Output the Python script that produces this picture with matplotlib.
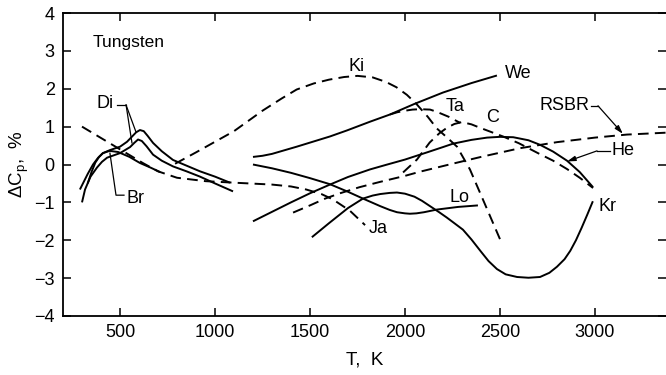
import matplotlib
matplotlib.use("Agg")
import matplotlib.pyplot as plt

plt.rcParams['font.family'] = ['Liberation Sans', 'DejaVu Sans']
plt.rcParams['mathtext.fontset'] = 'custom'
plt.rcParams['mathtext.rm'] = 'Liberation Sans'
plt.rcParams['mathtext.it'] = 'Liberation Sans:italic'

# ---- data ----
ki_T = [790, 900, 1000, 1100, 1250, 1350, 1430, 1520, 1600, 1680, 1750, 1830, 1900, 1955, 2010,
        2060, 2120, 2168, 2220, 2274, 2342, 2410, 2500]
ki_y = [0.02, 0.32, 0.6, 0.88, 1.42, 1.74, 1.98, 2.14, 2.24, 2.31, 2.34, 2.3, 2.18, 2.04, 1.84,
        1.6, 1.26, 0.95, 0.72, 0.47, -0.13, -0.92, -1.97]

we_T = [1200, 1250, 1300, 1430, 1605, 1695, 1816, 1921, 2050, 2200, 2350, 2484]
we_y = [0.2, 0.23, 0.28, 0.47, 0.74, 0.9, 1.13, 1.32, 1.6, 1.9, 2.15, 2.35]

ta_T = [1921, 1960, 2000, 2040, 2079, 2132, 2168, 2230, 2290]
ta_y = [1.32, 1.38, 1.42, 1.45, 1.46, 1.45, 1.39, 1.26, 1.1]

c_T = [1990, 2063, 2130, 2180, 2221, 2260, 2300, 2350, 2400, 2516, 2600, 2700, 2780, 2853, 2920, 2990]
c_y = [-0.21, 0.13, 0.58, 0.82, 0.97, 1.07, 1.12, 1.06, 0.96, 0.74, 0.56, 0.3, 0.1, -0.12, -0.35, -0.62]

rsbr_T = [1411, 1500, 1580, 1658, 1760, 1868, 2000, 2079, 2250, 2400, 2605, 2800, 3000, 3168, 3374]
rsbr_y = [-1.27, -1.08, -0.9, -0.76, -0.6, -0.46, -0.3, -0.19, 0.02, 0.2, 0.43, 0.59, 0.71, 0.79, 0.84]

he_T = [1200, 1300, 1400, 1500, 1605, 1700, 1816, 1900, 2000, 2116, 2200, 2253, 2350, 2432, 2500,
        2570, 2650, 2711, 2780, 2853, 2920, 2990]
he_y = [-1.5, -1.25, -1.0, -0.76, -0.53, -0.33, -0.13, -0.01, 0.13, 0.32, 0.46, 0.55, 0.65, 0.71, 0.73,
        0.72, 0.64, 0.52, 0.34, 0.1, -0.2, -0.6]

lo_T = [1200, 1300, 1400, 1500, 1605, 1700, 1779, 1870, 1920, 1958, 2000, 2026, 2060, 2100, 2168,
        2280, 2384]
lo_y = [0.0, -0.1, -0.22, -0.36, -0.52, -0.72, -0.9, -1.1, -1.2, -1.26, -1.29, -1.3, -1.29, -1.26, -1.19,
        -1.12, -1.08]

kr_T = [1510, 1600, 1700, 1779, 1830, 1870, 1920, 1958, 2000, 2050, 2090, 2132, 2180, 2220, 2260,
        2305, 2350, 2400, 2440, 2484, 2530, 2590, 2650, 2711, 2760, 2800, 2840, 2870, 2900, 2930,
        2960, 2989]
kr_y = [-1.92, -1.55, -1.15, -0.9, -0.82, -0.78, -0.75, -0.74, -0.77, -0.85, -0.96, -1.1, -1.26, -1.4,
        -1.55, -1.72, -1.98, -2.3, -2.55, -2.76, -2.9, -2.97, -2.99, -2.97, -2.86, -2.7, -2.5, -2.28,
        -2.0, -1.67, -1.32, -0.97]

ja_T = [300, 450, 620, 700, 800, 950, 1100, 1300, 1400, 1480, 1560, 1620, 1710, 1790]
ja_y = [1.0, 0.55, 0.04, -0.18, -0.35, -0.44, -0.48, -0.53, -0.58, -0.66, -0.78, -0.92, -1.22, -1.6]

di1_T = [289, 310, 330, 358, 385, 410, 447, 500, 537, 560, 585, 605, 625, 645, 674, 720, 779, 850,
         921, 1000, 1079]
di1_y = [-0.66, -0.45, -0.25, 0.0, 0.18, 0.3, 0.38, 0.47, 0.6, 0.72, 0.85, 0.91, 0.88, 0.76, 0.57, 0.35,
         0.12, -0.03, -0.18, -0.32, -0.48]

di2_T = [300, 316, 345, 379, 405, 432, 500, 553, 575, 595, 615, 640, 674, 720, 779, 850, 921, 1000,
         1095]
di2_y = [-1.0, -0.66, -0.32, -0.08, 0.07, 0.18, 0.3, 0.46, 0.57, 0.66, 0.62, 0.48, 0.26, 0.1, -0.05,
         -0.18, -0.32, -0.5, -0.71]

br_T = [330, 350, 370, 390, 410, 445, 490, 550, 605, 660, 711]
br_y = [-0.5, -0.2, 0.05, 0.2, 0.3, 0.36, 0.33, 0.2, 0.04, -0.08, -0.2]

x_ticks = [500, 1000, 1500, 2000, 2500, 3000]
y_ticks = [-4, -3, -2, -1, 0, 1, 2, 3, 4]

# ---- figure ----
fig = plt.figure(figsize=(6.66, 3.75), dpi=100)
ax = fig.add_axes([63/666, 59/375, 1 - 63/666, (316 - 13)/375])

lw = 1.4
dash = (0, (5.5, 3.2))
solid_kw = dict(color='black', lw=lw, solid_capstyle='butt', solid_joinstyle='round')
dash_kw = dict(color='black', lw=lw, linestyle=dash, dash_joinstyle='round')

ax.plot(ki_T, ki_y, **dash_kw)
ax.plot(ta_T, ta_y, **dash_kw)
ax.plot(c_T, c_y, **dash_kw)
ax.plot(rsbr_T, rsbr_y, **dash_kw)
ax.plot(ja_T, ja_y, **dash_kw)
ax.plot(we_T, we_y, **solid_kw)
ax.plot(he_T, he_y, **solid_kw)
ax.plot(lo_T, lo_y, **solid_kw)
ax.plot(kr_T, kr_y, **solid_kw)
ax.plot(di1_T, di1_y, **solid_kw)
ax.plot(di2_T, di2_y, **solid_kw)
ax.plot(br_T, br_y, **solid_kw)

ax.set_xlim(200, 3374)
ax.set_ylim(-4, 4)
ax.set_xticks(x_ticks)
ax.set_yticks(y_ticks)
ax.tick_params(direction='in', length=6, width=1.1, top=True, right=True,
               labelsize=13, pad=6)
ax.spines['right'].set_visible(False)
for s in ['left', 'top', 'bottom']:
    ax.spines[s].set_linewidth(1.3)

ax.set_xlabel('T,  K', fontsize=13.5, labelpad=7)
ax.set_ylabel(r'$\Delta$C$_\mathrm{p}$,  %', fontsize=13.5, labelpad=2)

fs = 13
ax.text(358, 3.21, 'Tungsten', fontsize=12.5, ha='left', va='center')
ax.text(421, 1.6, 'Di', fontsize=fs, ha='center', va='center')
lk = dict(color='black', lw=0.9)
ax.plot([484, 532], [1.57, 1.57], **lk)
ax.plot([532, 563], [1.57, 0.57], **lk)
ax.plot([532, 584], [1.57, 0.86], **lk)
ax.text(584, -0.89, 'Br', fontsize=fs, ha='center', va='center')
ax.plot([521, 479, 447], [-0.81, -0.81, 0.3], **lk)
ax.text(1747, 2.6, 'Ki', fontsize=fs, ha='center', va='center')
ax.text(2595, 2.39, 'We', fontsize=fs, ha='center', va='center')
ax.text(2263, 1.52, 'Ta', fontsize=fs, ha='center', va='center')
ax.text(2463, 1.23, 'C', fontsize=fs, ha='center', va='center')
ax.text(2842, 1.55, 'RSBR', fontsize=fs, ha='center', va='center')
ax.plot([2979, 3016], [1.55, 1.55], **lk)
ax.annotate('', xy=(3147, 0.81), xytext=(3016, 1.55),
            arrowprops=dict(arrowstyle='-|>,head_length=0.5,head_width=0.15', color='black', lw=0.9,
                            shrinkA=0, shrinkB=0))
ax.text(3147, 0.38, 'He', fontsize=fs, ha='center', va='center')
ax.plot([3079, 3011], [0.36, 0.36], **lk)
ax.annotate('', xy=(2853, 0.08), xytext=(3011, 0.36),
            arrowprops=dict(arrowstyle='-|>,head_length=0.5,head_width=0.15', color='black', lw=0.9,
                            shrinkA=0, shrinkB=0))
ax.text(2289, -0.86, 'Lo', fontsize=fs, ha='center', va='center')
ax.text(3068, -1.12, 'Kr', fontsize=fs, ha='center', va='center')
ax.text(1858, -1.68, 'Ja', fontsize=fs, ha='center', va='center')

fig.savefig('out.png', dpi=100)
